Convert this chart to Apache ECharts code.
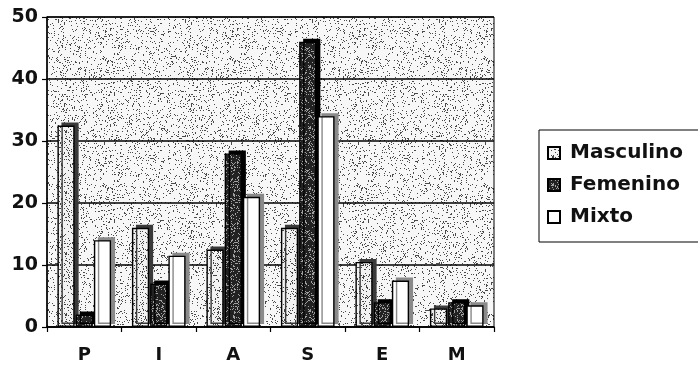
<!DOCTYPE html>
<html>
<head>
<meta charset="utf-8">
<script src="https://cdn.jsdelivr.net/npm/echarts@6/dist/echarts.min.js"></script>
<style>
  html, body { margin: 0; padding: 0; background: #fff; }
  #chart { width: 698px; height: 369px; }
</style>
</head>
<body>
<div id="chart"></div>
<script>
// Categories and values per group
const categories = ['P', 'I', 'A', 'S', 'E', 'M'];
const masculino = [32.5, 16, 12.5, 16, 10.5, 3];
const femenino = [2, 7, 28, 46, 4, 4];
const mixto = [14, 11.5, 21, 34, 7.5, 3.5];
const yTicks = [0, 10, 20, 30, 40, 50];

// Integer hash used to scatter the stipple dots over a tile
function hash(x, y, seed) {
  let h = Math.imul(x + 0x9e37, 0x85ebca6b) ^ Math.imul(y + seed, 0xc2b2ae35);
  h ^= h >>> 15;
  h = Math.imul(h, 0x27d4eb2d);
  h ^= h >>> 13;
  return (h >>> 0) % 1000;
}

// Stippled fill: a tile with a fixed scatter of dots
function stipple(base, dot, density, size, seed) {
  const c = document.createElement('canvas');
  c.width = size; c.height = size;
  const g = c.getContext('2d');
  g.fillStyle = base;
  g.fillRect(0, 0, size, size);
  g.fillStyle = dot;
  for (let y = 0; y < size; y++) {
    for (let x = 0; x < size; x++) {
      if (hash(x, y, seed) < density) g.fillRect(x, y, 1, 1);
    }
  }
  return { image: c, repeat: 'repeat' };
}

const wallFill = stipple('#f7f7f7', '#4a4a4a', 110, 127, 17);
const mascFill = stipple('#f2f2f2', '#444444', 160, 61, 5);
const femFill = stipple('#222222', '#a0a0a0', 220, 61, 9);

const chart = echarts.init(document.getElementById('chart'), null, { renderer: 'canvas' });

const fontFam = '"DejaVu Sans", Arial, sans-serif';

function barSeries(name, data, fill, side) {
  return {
    name: name,
    type: 'bar',
    data: data,
    barGap: '6%',
    barCategoryGap: '28%',
    itemStyle: {
      color: fill,
      borderColor: '#000',
      borderWidth: 1.4,
      shadowColor: side,
      shadowBlur: 0,
      shadowOffsetX: 4,
      shadowOffsetY: -3
    },
    emphasis: { disabled: true }
  };
}

chart.setOption({
  animation: false,
  backgroundColor: '#fff',
  grid: {
    left: 47, right: 204, top: 17, bottom: 42,
    show: true,
    backgroundColor: wallFill,
    borderColor: '#000',
    borderWidth: 1
  },
  legend: {
    orient: 'vertical',
    left: 539, top: 130,
    padding: [13, 40, 15, 8],
    itemGap: 12,
    itemWidth: 12, itemHeight: 12,
    borderColor: '#000',
    borderWidth: 1,
    backgroundColor: '#fff',
    icon: 'rect',
    textStyle: { fontFamily: fontFam, fontWeight: 'bold', fontSize: 20, color: '#111', padding: [0, 0, 0, 5] },
    data: ['Masculino', 'Femenino', 'Mixto']
  },
  xAxis: {
    type: 'category',
    data: categories,
    axisLine: { show: true, lineStyle: { color: '#000', width: 1.5 } },
    axisTick: { show: true, alignWithLabel: false, length: 5, lineStyle: { color: '#000', width: 1.2 } },
    axisLabel: { fontFamily: fontFam, fontWeight: 'bold', fontSize: 18, color: '#111', margin: 19 }
  },
  yAxis: {
    type: 'value',
    min: yTicks[0],
    max: yTicks[yTicks.length - 1],
    interval: 10,
    axisLine: { show: true, lineStyle: { color: '#000', width: 1.5 } },
    axisTick: { show: true, inside: false, length: 5, lineStyle: { color: '#000', width: 1.2 } },
    axisLabel: { fontFamily: fontFam, fontWeight: 'bold', fontSize: 19, color: '#111', margin: 9 },
    splitLine: { show: true, lineStyle: { color: '#000', width: 1.5 } }
  },
  series: [
    barSeries('Masculino', masculino, mascFill, '#3a3a3a'),
    barSeries('Femenino', femenino, femFill, '#000'),
    barSeries('Mixto', mixto, '#ffffff', '#8a8a8a')
  ]
});
</script>
</body>
</html>
